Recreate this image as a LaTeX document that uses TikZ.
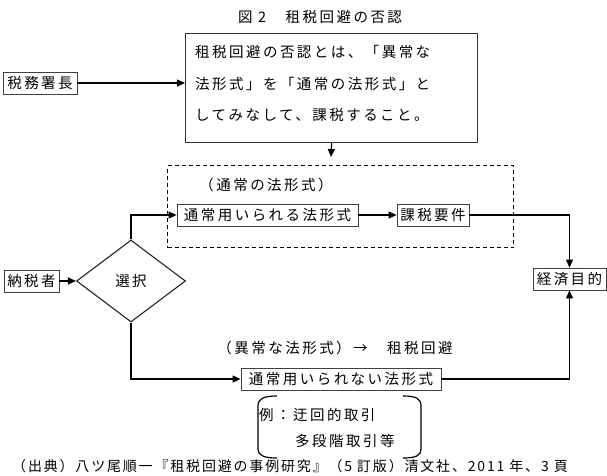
\documentclass[tikz,border=0pt]{standalone}
\usepackage{fontspec}
\newfontfamily\jp[LetterSpace=17]{Noto Sans CJK JP}
\newfontfamily\jpcap[LetterSpace=13]{Noto Sans CJK JP}
\usetikzlibrary{arrows.meta,shapes.geometric}
\begin{document}
\begin{tikzpicture}[x=1pt,y=-1pt,
  txt/.style={font=\jp\fontsize{14.5}{16}\selectfont, inner sep=0pt},
  box/.style={txt, draw=black!75, line width=0.8pt, minimum height=22pt, inner sep=0pt},
  conn/.style={line width=1.2pt, -{Triangle[length=8pt,width=7pt]}},
]
\useasboundingbox (0,0) rectangle (607,475);
% title
\node[txt] (title) at (320,17) {図 2　租税回避の否認};
% definition box
\node[draw=black!80, line width=1.2pt, minimum width=292pt, minimum height=109pt, anchor=north west, inner sep=0pt] (def) at (185,33) {};
\node[txt, anchor=west] (l1) at (195,52) {租税回避の否認とは、「異常な};
\node[txt, anchor=west] (l2) at (195,84) {法形式」を「通常の法形式」と};
\node[txt, anchor=west] (l3) at (195,115) {してみなして、課税すること。};
\node[box, minimum width=74pt] (zei) at (40,83) {税務署長};
\coordinate (c1) at (331,157);
% dashed group
\node[draw, dashed, dash pattern=on 4pt off 3pt, line width=1pt, minimum width=346pt, minimum height=82pt, anchor=north west, inner sep=0pt] (grp) at (167,165) {};
\node[txt] (lab1) at (266,185) {（通常の法形式）};
\node[box, minimum width=181pt] (tsujo) at (267.5,215) {通常用いられる法形式};
\node[box, minimum width=72pt] (kazei) at (433,215) {課税要件};
% left
\node[box, minimum width=55pt] (nozei) at (31.5,281) {納税者};
\node[diamond, draw=black!85, line width=1.1pt, minimum width=109pt, minimum height=82pt, aspect=1.33, inner sep=0pt, txt] (choice) at (131,281) {選択};
% right
\node[box, minimum width=73pt] (keizai) at (569.5,279) {経済目的};
% bottom
\node[txt] (lab2) at (335,348) {（異常な法形式）→　租税回避};
\node[box, minimum width=200pt] (ijo) at (341,379) {通常用いられない法形式};
\node[txt, anchor=west] (ex1) at (259,415) {例：迂回的取引};
\node[txt, anchor=west] (ex2) at (295,441) {多段階取引等};
\draw[line width=1.2pt] (277,396) .. controls (263,396) and (258,399) .. (258,406) -- (258,449) .. controls (258,455) and (263,458) .. (277,458);
\draw[line width=1.2pt] (403,396) .. controls (417,396) and (421,399) .. (421,406) -- (421,449) .. controls (421,455) and (417,458) .. (403,458);
% caption
\node[font=\jpcap\fontsize{14}{16}\selectfont, inner sep=0pt, anchor=west] (cap) at (12,466.5) {（出典）八ツ尾順一『租税回避の事例研究』（5 訂版）清文社、2011 年、3 頁};
% connectors
\draw[conn] (zei.east) -- (zei.east -| def.west);
\draw[conn] (def.south) -- (c1);
\draw[conn] (nozei.east) -- (choice.west);
\draw[conn] (choice.north) |- (tsujo.west);
\draw[conn] (tsujo.east) -- (kazei.west);
\draw[conn] (kazei.east) -| (keizai.north);
\draw[conn] (choice.south) |- (ijo.west);
\draw[conn] (ijo.east) -| (keizai.south);
\end{tikzpicture}
\end{document}
